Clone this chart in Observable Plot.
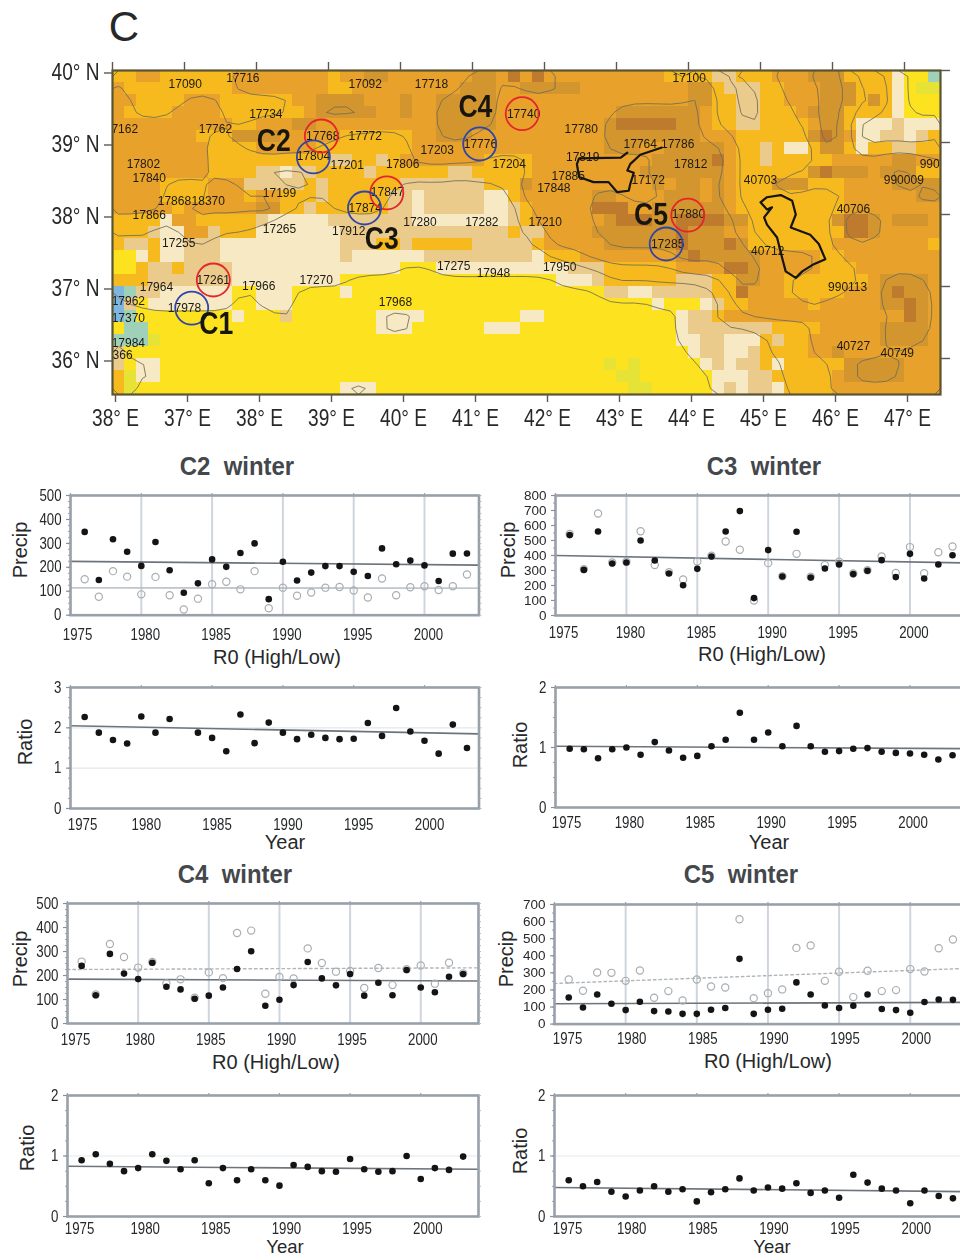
<!DOCTYPE html>
<html><head><meta charset="utf-8">
<script src="https://cdn.jsdelivr.net/npm/d3@7"></script>
<script src="https://cdn.jsdelivr.net/npm/@observablehq/plot@0.6"></script>
<style>
html,body{margin:0;padding:0;background:#fff;width:960px;height:1256px;overflow:hidden;position:relative}
.abs{position:absolute;white-space:pre;line-height:1}
.abs svg{display:block;overflow:visible;max-width:none!important;filter:blur(0.35px)}
</style></head><body>
<script>
// ---------- map field: run-length rows, 1/6 degree cells, north to south ----------
const mapRows = [
"l2o2l6o8l1o2d2o7d2o1b1o1b1o10l4t2l3o3d3l4c1Y2a1",
"o1l9o8l2o9d3o2d5o9d2l1t3l2o3d3l3c1Y1g2",
"o2l4o3l6o2d4o3d1o2d5o16d2l2t2l2o3d3l1d1l1c1Y3",
"o1l4o4l7o1d5o2d1o2d5o10d7o1l2t2l3o1d3l4c1Y3",
"o10l2o3d2o10d5o9d1b5d2o1l2t2l4o1d2l1c3t1c3",
"o7l3d4o5l6o2d3o11d8o3l6d1b1d1o1c2t2c1t1l1",
"o8l4o5l8o16d3o2d5o1l2t1l1c2l1d2l1c1l2t2l2",
"o8l10t2l2t1l1o7l4o10d5b1o1l2t1l5o5d2o2",
"o8l4t2c1t2l4t1l6t2l5o9d7o1l6d1b1d3o1d3l2",
"o4l4o3t5l1t1l6t7l3d1o10d1o1d2o1d1o1l3d3l3o4d4",
"o4l4o3l1o2l3t1l5t2c1t5c2l1o6d2o4d3o1d1o1l9o6d2",
"o5l1o6d2l2t1l6t2c1t5c2t1l1o5b3o2d6o1l9o8",
"l4c1o2l5t1c5t7c8t1l1o6d1b3d2b4d2l7d1b2d1o1d3o1",
"l3t1c2o2t1l3c7t14l1t2o4d7b1d3o2l8b2d1o5",
"l1t2l1c2t3c10t3l2t1l5t5l1o5d6b1d3b1d1l7o8l1",
"Y2c1l1c2t3c10t1c6t9c1l3o8d1b1d5o5l2o8",
"Y2l1t2l1t4c14Y3c11t3l6o4b2d1o5l3o7",
"l3t2t5c9Y18c3t1l6t3l2d2o2l7o1d4o1",
"u1a1t2c6Y2c3Y4c1Y21t2c2t5l2b1o3l5o3d1b1d2o1",
"u1t1Y1c7Y2c3Y30c1Y3c1t1l2o5l1o5d2b1d1o1",
"u1a1Y8c1Y3t1Y7c4Y8c2Y11c1t2l1o15b1d1o1",
"Y1a2Y19c3Y6c3Y13c1t2t5l4o5d4o1",
"a3g1Y43c2t2c3l1t1l2o6d4o1",
"t1Y47c1t2c2t1l4o2d1o8",
"t1Y1c2Y37g1Y1g1Y5c1t1c1t2l1c1l5d5o3",
"l1g1c2Y38g2Y6c3t2l5o1d5o3",
"l1g1Y17c3Y21g2Y5c1t1c1t2c1l4o9"
];
const mapColors = {Y:"#fde220",g:"#e6e236",a:"#9fd0b8",u:"#7db6de",c:"#f6e9c3",t:"#ebcb8c",l:"#f6ba1e",o:"#e8a12b",d:"#d3962f",b:"#bf7b2d"};
const mapLevels = {Y:0,g:0,a:0,u:0,c:1,t:1.5,l:2,o:3,d:4,b:5};
const contourLevels = [0.5,1.75,2.5,3.5,4.5];

// ---------- map annotations ----------
const stationNames = ["17090","17716","17092","17718","17100","17734","7162","17762","17768","17772","17740","17780","17203","17776","17764","17786","17802","17840","17804","17201","17806","17204","17819","17812","17199","17847","17868","18370","17866","17874","17280","17282","17210","17848","17885","17172","40703","990009","990","17880","40706","17265","17912","17285","40712","17255","17261","17275","17948","17950","17964","17966","17270","17962","17978","17370","17968","990113","17984","366","40727","40749"];
const stationLon = [37.01,37.81,39.51,40.43,44.01,38.13,36.17,37.43,38.92,39.51,41.71,42.51,40.51,41.11,43.33,43.85,36.43,36.51,38.79,39.26,40.03,41.51,42.53,44.03,38.32,39.82,36.86,37.33,36.51,39.51,40.27,41.13,42.01,42.13,42.33,43.44,45.0,46.99,47.35,44.0,46.29,38.32,39.28,43.71,45.10,36.92,37.40,40.74,41.29,42.21,36.61,38.03,38.83,36.22,37.0,36.22,39.93,46.21,36.22,36.14,46.29,46.90];
const stationLat = [39.81,39.90,39.81,39.81,39.90,39.40,39.19,39.19,39.09,39.09,39.40,39.19,38.89,38.98,38.98,38.98,38.70,38.50,38.81,38.69,38.70,38.70,38.79,38.70,38.30,38.31,38.18,38.18,37.99,38.09,37.90,37.90,37.90,38.36,38.53,38.48,38.48,38.48,38.70,38.0,38.08,37.79,37.77,37.59,37.49,37.60,37.09,37.28,37.19,37.27,36.99,37.0,37.09,36.80,36.70,36.56,36.78,36.99,36.21,36.04,36.17,36.07];
const redCircles = [[38.90,39.09],[39.81,38.30],[41.69,39.40],[43.99,37.99],[37.40,37.09]];
const blueCircles = [[38.79,38.80],[39.50,38.09],[41.10,38.98],[43.69,37.59],[37.10,36.70]];
const clusterNames = ["C1","C2","C3","C4","C5"];
const clusterLon = [37.44,38.24,39.74,41.04,43.48];
const clusterLat = [36.48,39.03,37.67,39.49,38.00];
const lakeA = [[43.63,38.93],[43.33,38.83],[43.19,38.70],[43.15,38.61],[43.24,38.58],[43.19,38.42],[43.17,38.33],[43.01,38.31],[42.89,38.45],[42.68,38.45],[42.48,38.52],[42.45,38.70],[42.48,38.78],[43.06,38.79],[43.15,38.86]];
const lakeB = [[45.00,38.17],[45.09,38.24],[45.28,38.27],[45.44,38.19],[45.49,38.00],[45.42,37.82],[45.69,37.72],[45.81,37.59],[45.90,37.38],[45.74,37.31],[45.58,37.21],[45.49,37.12],[45.35,37.21],[45.30,37.40],[45.23,37.68],[45.09,37.86],[45.05,37.96],[45.16,38.10],[45.09,38.07],[45.00,38.17]];
const lonTicks = [36,37,38,39,40,41,42,43,44,45,46,47];
const lonTickLabels = ["38° E","37° E","38° E","39° E","40° E","41° E","42° E","43° E","44° E","45° E","46° E","47° E"];
const latTicks = [36,37,38,39,40];
const latTickLabels = ["36° N","37° N","38° N","39° N","40° N"];

// ---------- station series, 1976-2003 ----------
const years = [1976,1977,1978,1979,1980,1981,1982,1983,1984,1985,1986,1987,1988,1989,1990,1991,1992,1993,1994,1995,1996,1997,1998,1999,2000,2001,2002,2003];
const c2High = [348,147,317,265,206,306,188,94,133,233,202,260,300,67,223,145,178,205,205,181,164,279,213,228,208,143,257,258];
const c2Low = [150,77,184,161,87,160,83,24,69,129,140,108,184,29,115,81,95,115,118,103,74,153,83,117,121,105,121,170];
const c2Ratio = [2.27,1.88,1.70,1.61,2.28,1.88,2.22,null,1.88,1.75,1.42,2.33,1.62,2.13,1.88,1.72,1.83,1.75,1.72,1.73,2.12,1.80,2.49,1.91,1.68,1.36,2.08,1.50];
const c3High = [536,304,560,347,353,500,367,280,202,311,393,560,696,116,436,260,558,253,313,340,276,298,369,256,411,247,340,402];
const c3Low = [544,309,680,353,358,562,336,289,240,360,398,493,438,100,349,262,411,258,336,358,280,302,393,284,456,282,422,460];
const c3Ratio = [.98,.97,.82,.97,1.0,.88,1.09,.95,.83,.86,1.02,1.13,1.58,1.13,1.25,1.02,1.36,1.02,.93,.94,.98,.99,.93,.91,.90,.88,.80,.87];
const c4High = [240,118,290,208,185,253,153,142,103,116,150,227,301,74,99,160,256,188,159,206,116,170,118,223,150,130,195,206];
const c4Low = [258,121,331,277,233,256,167,184,107,213,189,377,387,124,194,188,313,252,216,219,148,231,160,226,242,166,253,209];
const c4Ratio = [.93,1.03,.87,.75,.80,1.03,.92,.78,.93,.55,.80,.60,.78,.60,.51,.85,.82,.75,.74,.95,.78,.74,.75,1.0,.62,.80,.77,.99];
const c5High = [156,97,173,119,82,131,76,74,60,60,84,94,382,60,84,90,244,173,109,94,107,173,88,82,66,129,144,142];
const c5Low = [261,195,302,300,253,314,154,193,138,261,220,214,614,152,181,203,446,460,253,306,158,312,193,199,322,308,444,495];
const c5Ratio = [.60,.50,.57,.41,.33,.43,.50,.41,.45,.25,.40,.45,.63,.43,.48,.46,.55,.39,.43,.31,.69,.56,.46,.43,.22,.43,.34,.30];
// trend end values at 1975 and at the right edge
const c2HighTrend=[225,209], c2LowTrend=[114,113], c2RatioTrend=[2.05,1.85];
const c3HighTrend=[400,350], c3RatioTrend=[1.02,.98];
const c4HighTrend=[185,177], c4LowTrend=[225,232], c4RatioTrend=[.83,.78];
const c5HighTrend=[119,127], c5LowTrend=[238,326], c5RatioTrend=[.48,.41];

const REG = '"Liberation Sans",Arial,sans-serif';
const INK = "#26282a";

function place(node,left,top){const d=document.createElement("div");d.className="abs";d.style.left=left+"px";d.style.top=top+"px";d.appendChild(node);document.body.appendChild(d);}
function label(str,cx,cy,size,o={}){const d=document.createElement("div");d.className="abs";d.textContent=str;
  d.style.left=cx+"px";d.style.top=cy+"px";d.style.fontSize=size+"px";d.style.fontFamily=REG;d.style.fontWeight=o.weight||"normal";d.style.color=o.color||INK;
  d.style.transform="translate(-50%,-50%)"+(o.rot?" rotate(-90deg)":"")+(o.sx?` scaleX(${o.sx})`:"");document.body.appendChild(d);}

// ---------- map ----------
const cells=[], values=[];
mapRows.forEach((row,j)=>{let col=0;for(const m of row.matchAll(/([a-zA-Z])(\d+)/g)){for(let k=0;k<+m[2];k++,col++){
  cells.push({lon1:36+col/6,lon2:36+(col+1)/6,lat1:40-j/6,lat2:40-(j+1)/6,fill:mapColors[m[1]]});values.push(mapLevels[m[1]]);}}});
const stations = stationNames.map((n,i)=>({n,lon:stationLon[i],lat:stationLat[i]}));
const clusters = clusterNames.map((n,i)=>({n,lon:clusterLon[i],lat:clusterLat[i]}));
const lakes = [...lakeA.map(p=>({id:"a",lon:p[0],lat:p[1]})),...lakeB.map(p=>({id:"b",lon:p[0],lat:p[1]}))];
const tickLab=(t,l)=>v=>l[t.indexOf(v)];
place(Plot.plot({width:960,height:440,marginLeft:112,marginRight:20,marginTop:70,marginBottom:46,
  style:{fontFamily:REG,background:"transparent"},
  x:{domain:[36,47.5],label:null},y:{domain:[35.5,40],label:null},
  marks:[
    Plot.rect(cells,{x1:"lon1",x2:"lon2",y1:"lat1",y2:"lat2",fill:"fill",shapeRendering:"crispEdges"}),
    Plot.contour(values,{value:Plot.identity,width:69,height:27,x1:36,x2:47.5,y1:40,y2:35.5,thresholds:contourLevels,blur:0.25,fill:"none",stroke:"#6f6b58",strokeWidth:0.85}),
    Plot.line(lakes,{x:"lon",y:"lat",z:"id",stroke:"#141414",strokeWidth:2.2,curve:"linear"}),
    Plot.text(stations,{x:"lon",y:"lat",text:"n",fontSize:12,fill:"#1c1a12"}),
    Plot.dot(redCircles,{x:d=>d[0],y:d=>d[1],r:16.5,stroke:"#e5242c",strokeWidth:1.8,fill:"none"}),
    Plot.dot(blueCircles,{x:d=>d[0],y:d=>d[1],r:16.5,stroke:"#2f46a8",strokeWidth:1.8,fill:"none"}),
    Plot.text(clusters,{x:"lon",y:"lat",text:"n",fontSize:32,fontWeight:"bold",fill:"#17150f"}),
    Plot.frame({stroke:"#5b5433",strokeWidth:2.2}),
    Plot.axisX({anchor:"bottom",ticks:lonTicks,tickFormat:tickLab(lonTicks,lonTickLabels),tickSize:8,tickPadding:7,dx:3,label:null,fontSize:23,fill:INK,stroke:"#5b5a50",strokeWidth:1.4}),
    Plot.axisX({anchor:"top",ticks:lonTicks,tickFormat:()=>"",tickSize:9,label:null,stroke:"#5b5a50",strokeWidth:1.4}),
    Plot.axisY({anchor:"left",ticks:latTicks,tickFormat:tickLab(latTicks,latTickLabels),tickSize:8,tickPadding:5,label:null,fontSize:23,dy:2.5,fill:INK,stroke:"#5b5a50",strokeWidth:1.4}),
    Plot.axisY({anchor:"right",ticks:latTicks,tickFormat:()=>"",tickSize:9,label:null,stroke:"#5b5a50",strokeWidth:1.4})
  ]}),0,0);
label("C",124,27,42);

// ---------- scatter panels ----------
const tens=[1975,1980,1985,1990,1995,2000];
function panel(c){
  const mL=60,mR=6,mT=8,mB=34;
  const top=[...tens],w=c.right-c.left,xEnd=1975+w/c.ppy;
  const trendLine=(t)=>[{x:1975,y:t[0]},{x:xEnd,y:t[1]}];
  const pts=(a)=>years.map((x,i)=>({x,y:a[i]})).filter(d=>d.y!=null);
  const marks=[];
  if(c.vgrid) marks.push(Plot.ruleX(tens.slice(1),{stroke:"#cfd5df",strokeWidth:2}));
  if(c.hgrid) marks.push(Plot.ruleY(c.hgrid,{stroke:"#e3e7ec",strokeWidth:1.2}));
  if(c.lowTrend) marks.push(Plot.line(trendLine(c.lowTrend),{x:"x",y:"y",stroke:"#aeb5bc",strokeWidth:1.4,strokeDasharray:c.dashed?"2.5,3":null}));
  if(c.mainTrend) marks.push(Plot.line(trendLine(c.mainTrend),{x:"x",y:"y",stroke:"#6d747c",strokeWidth:1.6}));
  if(c.low) marks.push(Plot.dot(pts(c.low),{x:"x",y:"y",r:3.6,stroke:"#a9aeb1",strokeWidth:1.2,fill:"none"}));
  marks.push(Plot.dot(pts(c.main),{x:"x",y:"y",r:3.3,fill:"#141414"}));
  marks.push(
    Plot.frame({stroke:"#98a0aa",strokeWidth:2.6}),
    Plot.axisY({anchor:"left",ticks:d3.range(c.y0,c.ymax+1e-9,c.minor),tickFormat:()=>"",tickSize:2,label:null,stroke:"#9aa2ab",strokeWidth:1}),
    Plot.axisY({anchor:"right",ticks:d3.range(c.y0,c.ymax+1e-9,c.minor),tickFormat:()=>"",tickSize:2,label:null,stroke:"#b5bbc2",strokeWidth:1}),
    Plot.axisY({anchor:"left",ticks:c.yticks,tickFormat:d3.format("d"),tickSize:4,tickPadding:5,label:null,fontSize:c.yfont||16,fill:INK,stroke:"#8a929b",strokeWidth:1.2}),
    Plot.axisX({anchor:"top",ticks:top,tickFormat:()=>"",tickSize:3,label:null,stroke:"#9aa2ab",strokeWidth:1.2}),
    Plot.axisX({anchor:"bottom",ticks:[1975],tickFormat:d3.format("d"),tickSize:0,tickPadding:c.xpad,label:null,fontSize:16,fill:INK,dx:c.dxFirst}),
    Plot.axisX({anchor:"bottom",ticks:tens.slice(1),tickFormat:d3.format("d"),tickSize:0,tickPadding:c.xpad,label:null,fontSize:16,fill:INK,dx:c.dxRest})
  );
  place(Plot.plot({width:w+mL+mR,height:c.bottom-c.top+mT+mB,marginLeft:mL,marginRight:mR,marginTop:mT,marginBottom:mB,
    style:{background:"transparent",fontFamily:REG},
    x:{domain:[1975,xEnd],label:null},y:{domain:[c.y0,c.ymax],label:null},marks}),c.left-mL,c.top-mT);
}
const t=[0,100,200,300,400,500], t8=[0,100,200,300,400,500,600,700,800], t7=[0,100,200,300,400,500,600,700];
panel({left:69.5,right:478,top:495,bottom:614.7,ppy:14.16,y0:0,ymax:500,yticks:t,minor:25,vgrid:1,main:c2High,low:c2Low,mainTrend:c2HighTrend,lowTrend:c2LowTrend,xpad:13,dxFirst:7,dxRest:4});
panel({left:69.5,right:478,top:687,bottom:808,ppy:14.16,y0:0,ymax:3,yticks:[0,1,2,3],minor:.25,hgrid:[1,2],main:c2Ratio,mainTrend:c2RatioTrend,xpad:10,dxFirst:12,dxRest:5});
panel({left:554.8,right:966,top:495,bottom:615,ppy:14.18,y0:0,ymax:800,yticks:t8,minor:50,vgrid:1,main:c3High,low:c3Low,mainTrend:c3HighTrend,xpad:11,dxFirst:8,dxRest:4,yfont:13.5});
panel({left:555,right:966,top:687,bottom:807,ppy:14.18,y0:0,ymax:2,yticks:[0,1,2],minor:.25,main:c3Ratio,mainTrend:c3RatioTrend,xpad:9,dxFirst:11,dxRest:3});
panel({left:67,right:478,top:903.3,bottom:1023.3,ppy:14.13,y0:0,ymax:500,yticks:t,minor:25,vgrid:1,main:c4High,low:c4Low,mainTrend:c4HighTrend,lowTrend:c4LowTrend,dashed:1,xpad:10,dxFirst:8,dxRest:2});
panel({left:67,right:478,top:1095,bottom:1216,ppy:14.13,y0:0,ymax:2,yticks:[0,1,2],minor:.25,hgrid:[1],main:c4Ratio,mainTrend:c4RatioTrend,xpad:6,dxFirst:12,dxRest:7});
panel({left:554,right:966,top:903.7,bottom:1023.3,ppy:14.23,y0:0,ymax:700,yticks:t7,minor:50,vgrid:1,main:c5High,low:c5Low,mainTrend:c5HighTrend,lowTrend:c5LowTrend,dashed:1,xpad:9,dxFirst:13,dxRest:6,yfont:13.5});
panel({left:554,right:966,top:1095,bottom:1216,ppy:14.23,y0:0,ymax:2,yticks:[0,1,2],minor:.25,hgrid:[1],main:c5Ratio,mainTrend:c5RatioTrend,xpad:6,dxFirst:13,dxRest:6});

// Tick labels and cluster names are condensed in the reference: fit them to 83% of their natural width.
document.querySelectorAll("svg text").forEach(el=>{
  if(parseFloat(getComputedStyle(el).fontSize)>=16 && el.textContent){
    el.setAttribute("lengthAdjust","spacingAndGlyphs");
    el.setAttribute("textLength",(el.getComputedTextLength()*0.83).toFixed(1));
  }
});

// ---------- panel text ----------
const titleStyle={weight:"bold",color:"#44474b",sx:.92};
label("C2  winter",237,466,26,titleStyle);
label("C3  winter",764,466,26,titleStyle);
label("C4  winter",235,874,26,titleStyle);
label("C5  winter",741,874,26,titleStyle);
[["Precip",20,550],["Precip",508,550],["Precip",20,959],["Precip",506,959],["Ratio",25,742],["Ratio",520,745],["Ratio",27,1148],["Ratio",520,1151]]
  .forEach(([s,x,y])=>label(s,x,y,20,{rot:1}));
[["R0 (High/Low)",277,657],["R0 (High/Low)",762,654],["R0 (High/Low)",276,1062],["R0 (High/Low)",768,1061],["Year",285,842],["Year",769,842]]
  .forEach(([s,x,y])=>label(s,x,y,20));
label("Year",285,1247,18.5);
label("Year",772,1247,18.5);
</script>
</body></html>
